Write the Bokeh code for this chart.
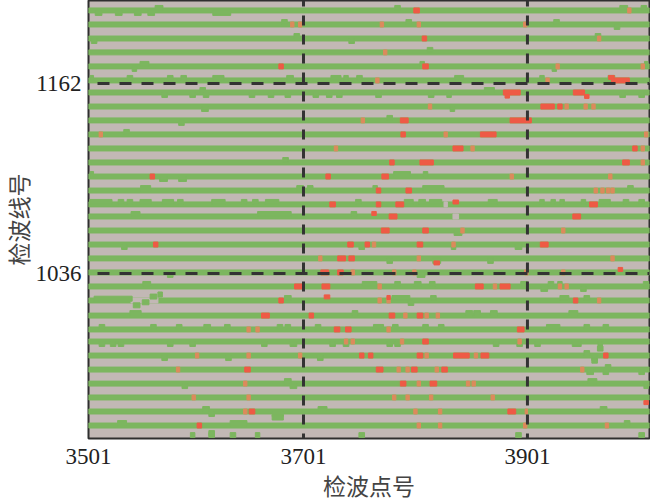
from bokeh.plotting import figure
from bokeh.embed import file_html
from bokeh.resources import INLINE
from bokeh.models import FixedTicker, Span

x_ticks = [3509, 3701, 3901]
x_tick_labels = ["3501", "3701", "3901"]
y_ticks = [1036, 1162]
y_tick_labels = ["1036", "1162"]
x_title = "检波点号"
y_title = "检波线号"

rows = [1210.4, 1201.1, 1191.8, 1182.6, 1173.3, 1164.0, 1156.0, 1146.7, 1137.5, 1128.2,
        1118.9, 1109.6, 1100.3, 1091.0, 1081.8, 1073.8, 1064.5, 1055.2, 1046.0, 1036.7,
        1027.4, 1018.1, 1008.1, 998.9, 990.9, 981.6, 972.3, 963.0, 953.8, 944.5, 935.2, 927.2]

# (row, trace, width)
green_up = [
 (0,3572,7),(0,3785,5),(0,3987,7),(0,4005,5),
 (1,3684,5),(1,3795,5),(1,3927,5),
 (2,3695,5),(2,3964,5),
 (3,3814,5),
 (4,3559,8),(4,3807,4),(4,4007,3),
 (5,3512,3),(5,3546,5),(5,3582,5),(5,3594,5),(5,3625,10),(5,3689,6),(5,3730,9),(5,3739,4),(5,3751,5),
 (5,3840,8),(5,3914,4),(5,3976,6),
 (6,3611,5),(6,3867,9),
 (8,3778,5),
 (9,3543,5),
 (11,3685,5),
 (12,3512,3),(12,3789,15),(12,3810,4),
 (13,3560,9),(13,3698,6),(13,3707,5),(13,3765,4),(13,3817,19),(13,3993,5),
 (14,3520,20),(14,3538,5),(14,3546,5),(14,3560,10),(14,3580,10),(14,3591,5),(14,3625,12),(14,3648,5),
 (14,3658,5),(14,3673,12),(14,3750,5),(14,3795,8),(14,3807,6),(14,3819,11),(14,3870,8),(14,3914,4),
 (14,3924,4),(14,3932,4),(14,3951,4),(14,3970,10),(14,3989,5),(14,4003,5),
 (15,3551,8),(15,3675,30),(15,3746,5),
 (20,3561,7),(20,3760,13),(20,3785,5),(20,3803,6),(20,3816,5),(20,3898,6),(20,3922,5),(20,3930,4),(20,4007,5),
 (21,3687,6),(21,3788,16),(21,3817,5),(21,3934,8),(21,3954,5),
 (22,3551,10),(22,3747,5),(22,3849,6),(22,3856,6),(22,3871,6),(22,3942,8),
 (23,3521,5),(23,3567,5),(23,3590,5),(23,3615,6),(23,3633,5),(23,3680,5),(23,3687,5),(23,3714,5),
 (23,3768,9),(23,3783,5),(23,3810,5),(23,3824,5),(23,3924,12),(23,3954,5),(23,3971,5),
 (25,3954,5),
 (26,3973,5),
 (27,3687,6),(27,3959,8),
 (29,3614,6),(29,3718,8),(29,3969,6),
 (30,3539,8),(30,3643,15),(30,3990,5),
 (31,3602,4),(31,3619,5),(31,3638,5),(31,3660,4),(31,3753,5),(31,3893,5),(31,4003,5),
]
green_down = [
 (0,3518,6),(0,3536,6),(0,3553,6),(0,3565,6),(0,3628,16),
 (1,3981,5),
 (2,3514,5),(2,3744,5),
 (4,3550,4),(4,3925,4),
 (6,3577,5),(6,3602,5),(6,3614,5),(6,3655,5),(6,3672,5),(6,3687,5),(6,3712,5),(6,3724,5),(6,3733,5),
 (6,3768,5),(6,3815,5),(6,3831,4),(6,3986,5),(6,4003,5),
 (7,3613,6),(7,3834,4),
 (8,3592,5),
 (12,3576,7),(12,3593,7),
 (16,3839,7),
 (17,3541,5),(17,3753,5),(17,3835,4),(17,3893,6),
 (18,3778,5),(18,3820,7),(18,3868,5),
 (19,3582,5),(19,3806,7),
 (20,3916,6),(20,3951,5),
 (21,3797,5),
 (24,3521,5),(24,3531,5),(24,3538,5),(24,3582,5),(24,3602,5),(24,3666,5),(24,3692,6),(24,3727,5),(24,3739,5),
 (24,3778,5),(24,3785,5),(24,3873,5),(24,3894,5),(24,3910,5),(24,3945,8),(24,3966,4),
 (25,3577,5),(25,3634,5),(25,3716,5),(25,3961,5),
 (26,3957,6),(26,3971,5),(26,4003,5),
 (27,3595,5),(27,3692,6),(27,4007,4),
 (29,3619,5),(29,3678,10),
]
# (row, trace, width, shift)  strays further from their line
green_shift = [
 (21,3531,34,1.2),(21,3552,6,-3.2),(21,3560,6,-1.2),(21,3567,6,2.6),(21,3573,4,4.0),
 (25,3966,5,4.6),(25,3961,5,-3.4),(29,3678,10,-4.0),(31,3619,5,3.0),
]
# (row, trace, width)
row_gaps = [(14,3828,3),(15,3837,5),(21,3559,24)]

red_spots = [
 (1,3691,3),(1,3698,3),(1,3771,3),(1,3804,3),(1,3899,3),
 (0,3802,5),(0,3992,3),
 (2,3809,4),(2,3965,3),
 (3,3774,3),
 (4,3681,4),(4,3810,5),(4,3928,3),(4,4004,3),
 (5,3767,3),(5,3919,3),(5,3984,16),
 (6,3887,15),(6,3947,10),
 (7,3814,3),(7,3919,12),(7,3930,4),(7,3936,3),(7,3953,3),(7,3960,3),
 (8,3754,3),(8,3791,7),(8,3895,19),
 (9,3520,3),(9,3790,4),(9,3828,3),(9,3866,14),(9,4007,3),
 (10,3730,3),(10,3839,9),(10,3852,3),(10,3997,4),(10,4004,3),
 (11,3780,4),(11,3811,12),(11,3989,6),(11,4004,3),
 (12,3566,4),(12,3723,4),(12,3774,6),(12,3887,3),(12,3975,3),
 (13,3768,4),(13,3795,5),(13,3962,3),(13,3968,3),(13,3973,3),(13,3977,3),
 (14,3727,5),(14,3768,4),(14,3787,7),(14,3960,7),
 (15,3781,7),(15,3945,7),
 (16,3774,7),(16,3810,5),(16,3843,3),(16,3933,3),
 (17,3569,4),(17,3743,5),(17,3758,4),(17,3764,3),(17,3805,5),(17,3835,3),(17,3916,7),
 (18,3716,3),(18,3735,7),(18,3744,5),(18,3804,3),(18,3977,3),
 (19,3720,7),(19,3734,5),(19,3745,3),(19,3782,3),(19,3800,3),(19,3900,3),(19,3933,3),
 (20,3697,8),(20,3721,7),(20,3769,3),(20,3858,7),(20,3872,3),(20,3881,9),(20,3930,3),(20,3936,3),
 (21,3681,4),(21,3769,3),(21,3777,3),(21,3944,4),(21,3965,3),
 (22,3667,7),(22,3708,4),(22,3780,5),(22,3792,3),(22,3805,5),(22,3811,3),(22,3821,3),
 (23,3652,3),(23,3660,3),(23,3731,5),(23,3741,5),(23,3777,3),(23,3895,6),
 (24,3739,3),(24,3745,3),(24,3789,3),(24,3810,5),(24,3894,3),
 (25,3606,3),(25,3652,3),(25,3698,3),(25,3753,4),(25,3761,4),(25,3805,5),(25,3811,3),(25,3842,14),
 (25,3855,3),(25,3863,7),(25,3971,4),
 (26,3589,3),(26,3651,5),(26,3769,6),(26,3786,3),(26,3794,3),(26,3800,5),(26,3820,3),(26,3827,5),(26,3950,3),
 (27,3649,3),(27,3790,5),(27,3804,3),(27,3817,6),(27,3848,3),(27,3853,3),
 (28,3603,3),(28,3652,3),(28,3782,3),(28,3794,3),(28,3815,3),(28,3870,3),
 (29,3649,3),(29,3655,5),(29,3801,3),(29,3823,3),(29,3887,7),(29,3900,2),
 (30,3608,4),(30,3804,3),(30,3823,3),(30,3899,3),(30,3972,3),
]
# (row, trace, width, shift)
red_shift = [
 (6,3883,4,-2.4),(6,3954,4,-2.6),(14,3837,5,1.6),(15,3764,4,2.0),(18,3820,5,-3.0),
 (21,3722,5,2.4),(21,3777,3,2.0),(28,4007,4,-3.4),(19,3984,4,2.0),(5,3976,5,2.0),
]

GRAY, GREEN, RED, ORANGE = "#c2b8b5", "#7cb65f", "#ee5a45", "#dc8a5c"
BAR_H = 3.3

p = figure(width=658, height=515, output_backend="svg", toolbar_location=None,
           x_range=(3509, 4010), y_range=(926.6, 1217),
           min_border_left=96, min_border_right=1, min_border_top=8, min_border_bottom=69,
           margin=(-8, 0, -15, -8))
p.background_fill_color = GRAY
p.border_fill_color = "white"
p.outline_line_color = "#2f2f2f"
p.outline_line_width = 2
p.grid.visible = False

p.hbar(y=rows[:-1], left=3509, right=4010, height=BAR_H, color=GREEN)
p.rect([g[1] for g in row_gaps], [rows[g[0]] for g in row_gaps], width=[g[2] for g in row_gaps],
       height=BAR_H, color=GRAY)
bx = [b[1] for b in green_up] + [b[1] for b in green_down] + [b[1] for b in green_shift]
by = ([rows[b[0]] + BAR_H / 2 for b in green_up] + [rows[b[0]] - BAR_H / 2 for b in green_down]
      + [rows[b[0]] + b[3] for b in green_shift])
bw = [b[2] for b in green_up] + [b[2] for b in green_down] + [b[2] for b in green_shift]
p.rect(bx, by, width=bw, height=BAR_H, color=GREEN)
p.rect([s[1] for s in red_spots], [rows[s[0]] for s in red_spots], width=[s[2] for s in red_spots],
       height=BAR_H, color=[RED if s[2] > 3 else ORANGE for s in red_spots])
p.rect([s[1] for s in red_shift], [rows[s[0]] + s[3] for s in red_shift], width=[s[2] for s in red_shift],
       height=BAR_H * 0.8, color=RED)

for xv in x_ticks[1:]:
    p.add_layout(Span(location=xv, dimension="height", line_color="#333333", line_width=3,
                      line_dash="10 9", line_dash_offset=4))
for yv in y_ticks:
    p.add_layout(Span(location=yv, dimension="width", line_color="#333333", line_width=3,
                      line_dash="12 10", line_dash_offset=13))

p.xaxis.ticker = FixedTicker(ticks=x_ticks)
p.xaxis.major_label_overrides = dict(zip(x_ticks, x_tick_labels))
p.yaxis.ticker = FixedTicker(ticks=y_ticks)
p.yaxis.major_label_overrides = dict(zip(y_ticks, y_tick_labels))
for ax in (p.xaxis[0], p.yaxis[0]):
    ax.axis_line_color = None
    ax.major_tick_line_color = None
    ax.minor_tick_line_color = None
    ax.major_label_text_font = "Liberation Serif"
    ax.major_label_text_font_size = "23px"
    ax.major_label_text_color = "#222222"
    ax.axis_label_text_font = "Noto Sans CJK SC"
    ax.axis_label_text_font_size = "23px"
    ax.axis_label_text_font_style = "normal"
    ax.axis_label_text_color = "#444444"
p.xaxis.major_label_standoff = 4
p.yaxis.major_label_standoff = 1
p.yaxis.major_label_orientation = "horizontal"
p.xaxis.axis_label = x_title
p.yaxis.axis_label = y_title
p.xaxis.axis_label_standoff = 1
p.yaxis.axis_label_standoff = -2

open("out.html", "w").write(file_html(p, INLINE))
